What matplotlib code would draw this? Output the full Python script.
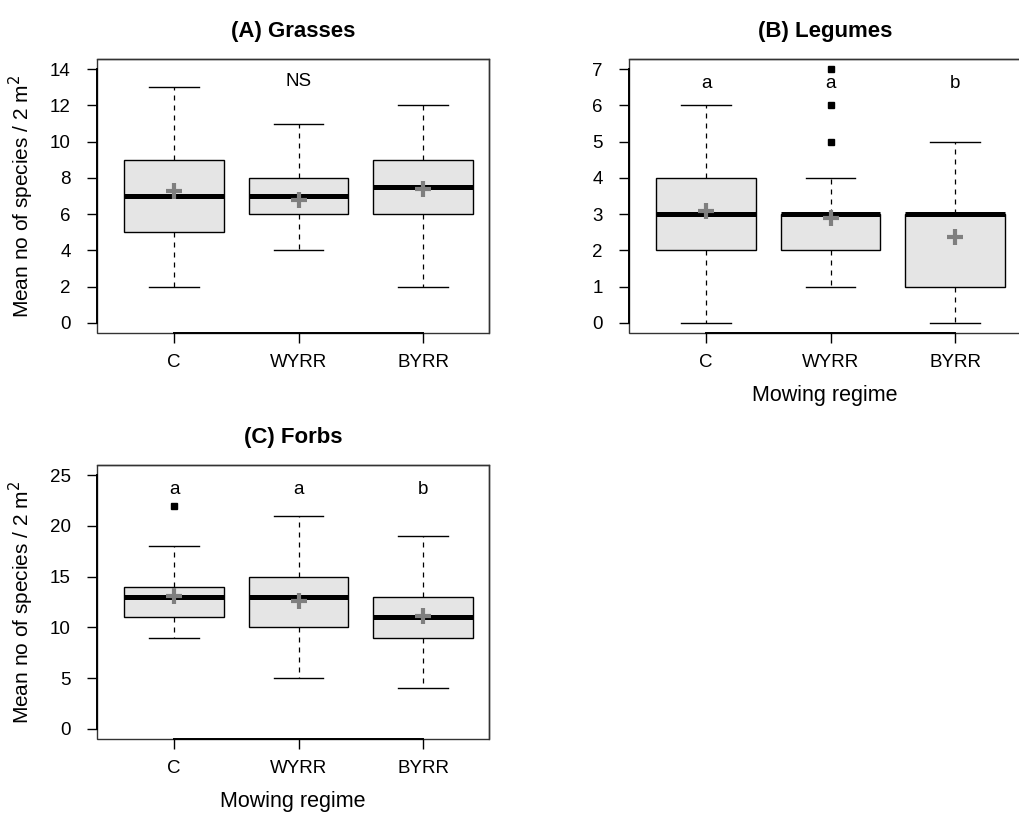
import matplotlib
matplotlib.use("Agg")
import matplotlib.pyplot as plt

plt.rcParams['font.family'] = ['Liberation Sans', 'DejaVu Sans']

# regimes
groups = ["C", "WYRR", "BYRR"]

# (A) Grasses
grass_lo = [2, 4, 2]
grass_q1 = [5, 6, 6]
grass_med = [7, 7, 7.5]
grass_q3 = [9, 8, 9]
grass_hi = [13, 11, 12]
grass_mean = [7.3, 6.78, 7.37]
grass_out = [[], [], []]
grass_letters = ["", "NS", ""]

# (B) Legumes
leg_lo = [0, 1, 0]
leg_q1 = [2, 2, 1]
leg_med = [3, 3, 3]
leg_q3 = [4, 3, 3]
leg_hi = [6, 4, 5]
leg_mean = [3.08, 2.9, 2.38]
leg_out = [[], [5, 6, 7], []]
leg_letters = ["a", "a", "b"]

# (C) Forbs
forb_lo = [9, 5, 4]
forb_q1 = [11, 10, 9]
forb_med = [13, 13, 11]
forb_q3 = [14, 15, 13]
forb_hi = [18, 21, 19]
forb_mean = [13.13, 12.6, 11.09]
forb_out = [[22], [], []]
forb_letters = ["a", "a", "b"]

W, H = 1019, 814
fig = plt.figure(figsize=(W / 100, H / 100), dpi=100)


def make_stats(lo, q1, med, q3, hi, mean, out):
    stats = []
    for i in range(len(lo)):
        stats.append(dict(whislo=lo[i], q1=q1[i], med=med[i], q3=q3[i],
                          whishi=hi[i], mean=mean[i], fliers=out[i]))
    return stats


def panel(rect, title, stats, yticks, ymax, letters, letter_y, ylabel, xlabel):
    ax = fig.add_axes(rect)
    pad = ymax * 0.04
    ax.set_ylim(-pad, ymax + pad)
    ax.set_xlim(0.38, 3.53)
    ax.bxp(stats, positions=[1, 2, 3], widths=0.8, capwidths=0.4,
           patch_artist=True, showmeans=True, manage_ticks=False,
           boxprops=dict(facecolor="#e5e5e5", edgecolor="black", linewidth=1.0),
           medianprops=dict(color="black", linewidth=3.6, solid_capstyle="butt"),
           whiskerprops=dict(color="black", linewidth=0.9, linestyle=(0, (4, 4))),
           capprops=dict(color="black", linewidth=1.0),
           flierprops=dict(marker="s", markersize=4, markerfacecolor="black",
                           markeredgecolor="black"),
           meanprops=dict(marker="+", markersize=11, markeredgewidth=3,
                          markeredgecolor="#7f7f7f"))
    for i, t in enumerate(letters):
        if t:
            ax.text(i + 1, letter_y, t, ha="center", va="center", fontsize=13.5)
    ax.set_xticks([1, 2, 3])
    ax.set_xticklabels(groups)
    ax.set_yticks(yticks)
    ax.tick_params(axis="both", direction="out", length=7, width=1, labelsize=13.5)
    ax.tick_params(axis="y", pad=12)
    ax.tick_params(axis="x", pad=8)
    # R style: thin frame plus axis lines between first and last tick
    ax.patch.set_edgecolor("#333333")
    ax.patch.set_linewidth(1.0)
    for s in ["top", "right"]:
        ax.spines[s].set_linewidth(1.0)
        ax.spines[s].set_color("#333333")
    ax.spines["left"].set_bounds(yticks[0], yticks[-1])
    ax.spines["bottom"].set_bounds(1, 3)
    ax.spines["left"].set_linewidth(1.4)
    ax.spines["bottom"].set_linewidth(1.4)
    ax.set_title(title, fontsize=16, fontweight="bold", pad=16)
    if ylabel:
        ax.set_ylabel(r"Mean no of species / 2 m$^2$", fontsize=15)
        ax.yaxis.set_label_coords(-0.155, 0.5)
    if xlabel:
        ax.set_xlabel("Mowing regime", fontsize=15.5)
        ax.xaxis.set_label_coords(0.5, -0.19)
    return ax


aw = 392 / W
ah = 274 / H
panel([97 / W, 1 - 333 / H, aw, ah], "(A) Grasses",
      make_stats(grass_lo, grass_q1, grass_med, grass_q3, grass_hi, grass_mean, grass_out),
      list(range(0, 15, 2)), 14, grass_letters, 13.3, True, False)
panel([629 / W, 1 - 333 / H, aw, ah], "(B) Legumes",
      make_stats(leg_lo, leg_q1, leg_med, leg_q3, leg_hi, leg_mean, leg_out),
      list(range(0, 8)), 7, leg_letters, 6.6, False, True)
panel([97 / W, 1 - 739 / H, aw, ah], "(C) Forbs",
      make_stats(forb_lo, forb_q1, forb_med, forb_q3, forb_hi, forb_mean, forb_out),
      list(range(0, 26, 5)), 25, forb_letters, 23.6, True, True)

fig.savefig("out.png", dpi=100)
